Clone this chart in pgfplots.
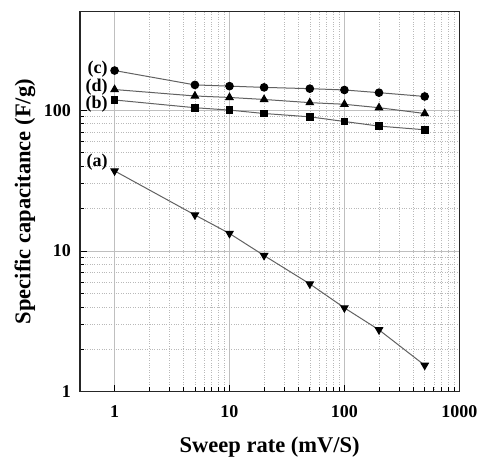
\documentclass[border=0pt]{standalone}
\usepackage{pgfplots}
\pgfplotsset{compat=1.18}
\usepackage{fontspec}
\setmainfont{Liberation Serif}
\begin{document}
\begin{tikzpicture}
\begin{axis}[
  name=main,
  xmode=log, ymode=log,
  scale only axis, width=379.3pt, height=380pt,
  xmin=0.5, xmax=1000, ymin=1, ymax=500,
  xtick={1,10,100,1000}, xticklabels={\textbf{1},\textbf{10},\textbf{100},\textbf{1000}},
  ytick={1,10,100}, yticklabels={\textbf{1},\textbf{10},\textbf{100}},
  tick label style={font=\fontsize{18}{20}\selectfont, inner sep=0pt},
  xticklabel style={anchor=center, yshift=-20pt},
  yticklabel style={anchor=east, xshift=-9pt},
  tick align=inside,
  xtick pos=bottom, ytick pos=left,
  major tick length=7pt, minor tick length=4.5pt,
  major tick style={black, line width=0.7pt},
  minor tick style={black, line width=0.7pt},
  grid=both,
  major grid style={gray!50, line width=0.6pt},
  minor grid style={gray!55, dotted, line width=0.55pt},
  axis line style={black!85, line width=1.1pt},
  xlabel={\textbf{Sweep rate (mV/S)}},
  ylabel={\textbf{Specific capacitance (F/g)}},
  label style={font=\fontsize{22.5}{24}\selectfont, inner sep=0pt},
  xlabel style={at={(axis description cs:0.5,-0.1455)}, anchor=center},
  ylabel style={at={(axis description cs:-0.145,0.5)}, anchor=center},
  every axis plot/.append style={line width=1pt, color=black!62},
]
\addplot[mark=*, mark size=3.8pt, mark options={fill=black, draw=black, solid}] coordinates {
(1,191) (5,151) (10,148) (20,145) (50,142) (100,139) (200,133) (500,125)};
\addplot[mark=triangle*, mark size=4.2pt, mark options={fill=black, draw=black, solid}] coordinates {
(1,140) (5,126) (10,123) (20,119) (50,113) (100,110) (200,104) (500,94.6)};
\addplot[mark=square*, mark size=3.3pt, mark options={fill=black, draw=black, solid}] coordinates {
(1,118) (5,104) (10,100) (20,94.6) (50,89.6) (100,83) (200,77) (500,72.5)};
\addplot[mark=triangle*, mark size=4.2pt, mark options={fill=black, draw=black, solid, rotate=180}] coordinates {
(1,37) (5,18.0) (10,13.3) (20,9.27) (50,5.83) (100,3.94) (200,2.75) (500,1.54)};
\node[anchor=east, font=\fontsize{18}{20}\selectfont\bfseries, inner sep=0pt] at (axis cs:0.875,196.6) {(c)};
\node[anchor=east, font=\fontsize{18}{20}\selectfont\bfseries, inner sep=0pt] at (axis cs:0.875,146.4) {(d)};
\node[anchor=east, font=\fontsize{18}{20}\selectfont\bfseries, inner sep=0pt] at (axis cs:0.875,110.9) {(b)};
\node[anchor=east, font=\fontsize{18}{20}\selectfont\bfseries, inner sep=0pt] at (axis cs:0.875,42.9) {(a)};
\end{axis}
\path (main.south west) ++(-80pt,-65.3pt) rectangle ++(478pt,457pt);
\end{tikzpicture}
\end{document}
